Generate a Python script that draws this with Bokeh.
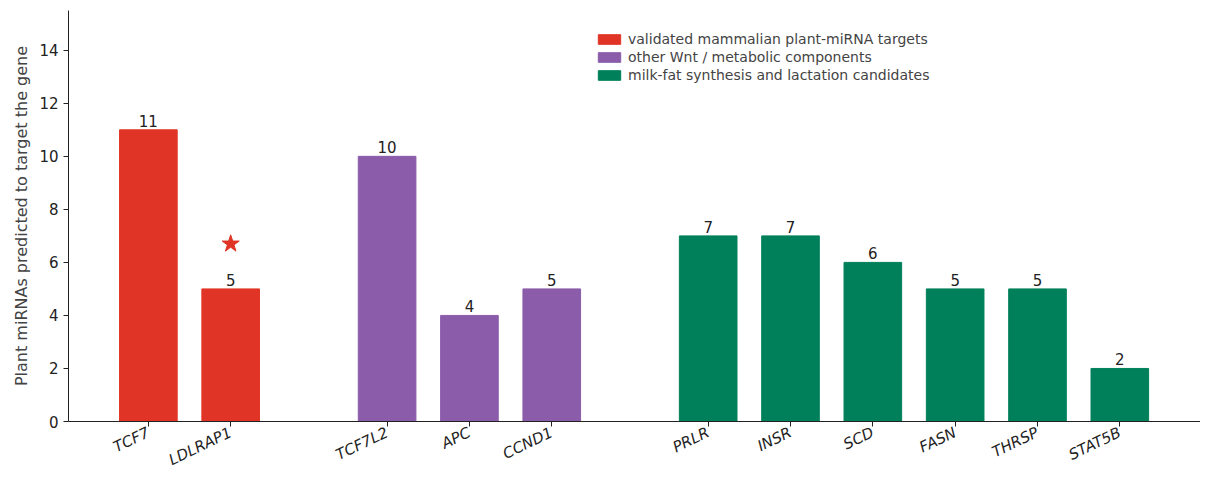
from bokeh.plotting import figure
from bokeh.models import ColumnDataSource, FixedTicker, Range1d, Legend, LegendItem
from bokeh.core.properties import value
from bokeh.embed import file_html
from bokeh.resources import INLINE

genes = ["TCF7", "LDLRAP1", "TCF7L2", "APC", "CCND1", "PRLR", "INSR", "SCD", "FASN", "THRSP", "STAT5B"]
counts = [11, 5, 10, 4, 5, 7, 7, 6, 5, 5, 2]
groups = [0, 0, 1, 1, 1, 2, 2, 2, 2, 2, 2]
group_names = ["validated mammalian plant-miRNA targets", "other Wnt / metabolic components",
               "milk-fat synthesis and lactation candidates"]
group_colors = ["#e03526", "#8a5caa", "#00805a"]
xpos = [0, 1, 2.9, 3.9, 4.9, 6.8, 7.8, 8.8, 9.8, 10.8, 11.8]
star_gene = "LDLRAP1"
star_y = 6.7

p = figure(width=1200, height=480, output_backend="svg", toolbar_location=None,
           x_range=Range1d(-0.97, 12.78), y_range=Range1d(0, 15.5),
           min_border_left=68, min_border_right=0, min_border_top=10, min_border_bottom=56)
p.outline_line_color = None
p.xgrid.visible = False
p.ygrid.visible = False

items = []
for g in range(3):
    idx = [i for i in range(len(genes)) if groups[i] == g]
    src = ColumnDataSource(dict(x=[xpos[i] for i in idx], top=[counts[i] for i in idx],
                                lab=[str(counts[i]) for i in idx]))
    r = p.vbar(x="x", top="top", width=0.7, source=src, color=group_colors[g])
    p.text(x="x", y="top", text="lab", source=src, text_align="center", text_baseline="bottom",
           y_offset=-3, text_font_size="15px", text_color="#222222", text_font=value("DejaVu Sans"))
    items.append(LegendItem(label=group_names[g], renderers=[r]))

si = genes.index(star_gene)
p.scatter(x=[xpos[si]], y=[star_y], marker="star", size=18, color=group_colors[0])

leg = Legend(items=items, location=(527, 338), border_line_color=None, background_fill_alpha=0,
             label_text_font_size="14px", label_text_font="DejaVu Sans", glyph_width=28, glyph_height=12,
             spacing=2, margin=0, label_height=14)
p.add_layout(leg, "center")

p.xaxis.ticker = FixedTicker(ticks=xpos)
p.xaxis.major_label_overrides = {x: g for x, g in zip(xpos, genes)}
p.xaxis.major_label_orientation = 0.45
p.xaxis.major_label_text_font_style = "italic"
p.yaxis.ticker = FixedTicker(ticks=[0, 2, 4, 6, 8, 10, 12, 14])
for ax in (p.xaxis, p.yaxis):
    ax.major_label_text_font = "DejaVu Sans"
    ax.major_label_text_font_size = "15px"
    ax.major_label_text_color = "#222222"
    ax.minor_tick_line_color = None
    ax.axis_line_color = "#222222"
    ax.major_tick_line_color = "#222222"
    ax.major_tick_out = 5
    ax.major_tick_in = 0
p.yaxis.axis_label = "Plant miRNAs predicted to target the gene"
p.yaxis.axis_label_text_font = "DejaVu Sans"
p.yaxis.axis_label_text_font_style = "normal"
p.yaxis.axis_label_text_font_size = "16px"

open("out.html", "w").write(file_html(p, INLINE))
